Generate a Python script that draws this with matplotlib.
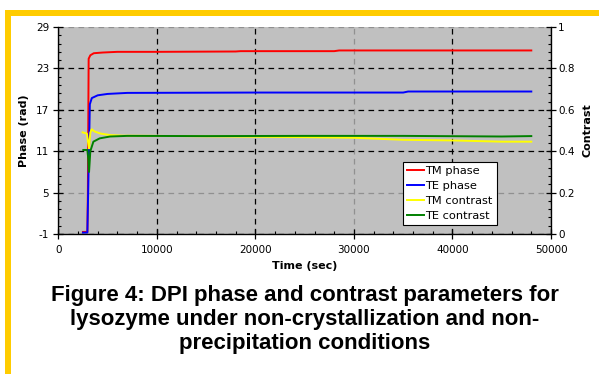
import matplotlib
matplotlib.use("Agg")
import matplotlib.pyplot as plt
from matplotlib.patches import Rectangle
from matplotlib.ticker import MultipleLocator, FuncFormatter

plt.rcParams["axes.unicode_minus"] = False

# values (time in sec)
tm_phase_t = [2500, 2950, 3000, 3080, 3250, 3600, 4500, 6000, 10000, 18000, 18500, 28000, 28500, 48000]
tm_phase = [-0.7, -0.7, 5.0, 24.4, 24.9, 25.2, 25.3, 25.4, 25.4, 25.45, 25.5, 25.5, 25.6, 25.6]

te_phase_t = [2500, 2950, 3100, 3200, 3400, 4000, 5000, 7000, 20000, 35000, 35500, 48000]
te_phase = [-0.8, -0.8, 10.0, 17.8, 18.7, 19.1, 19.3, 19.45, 19.5, 19.5, 19.65, 19.65]

tm_con_t = [2470, 2900, 3000, 3120, 3250, 3390, 3700, 4300, 5250, 6500, 10000, 20000, 25000, 30000, 35000, 40000, 45000, 48000]
tm_con = [0.491, 0.485, 0.45, 0.414, 0.49, 0.506, 0.495, 0.485, 0.478, 0.475, 0.474, 0.47, 0.468, 0.465, 0.455, 0.452, 0.446, 0.446]

te_con_t = [2540, 2950, 3050, 3120, 3250, 3560, 4200, 5250, 7000, 15000, 25000, 35000, 45000, 48000]
te_con = [0.406, 0.406, 0.36, 0.30, 0.40, 0.446, 0.462, 0.471, 0.474, 0.473, 0.474, 0.474, 0.471, 0.473]

labels = ["TM phase", "TE phase", "TM contrast", "TE contrast"]
colors = ["#ff0000", "#0000ff", "#ffff00", "#008000"]

caption = ("Figure 4: DPI phase and contrast parameters for\n"
           "lysozyme under non-crystallization and non-\n"
           "precipitation conditions")

fig = plt.figure(figsize=(5.99, 3.74), dpi=100)

# yellow frame
fig.add_artist(Rectangle((5 / 599, 1 - 15.7 / 374), 1, 5.7 / 374, transform=fig.transFigure,
                         facecolor="#ffcc00", edgecolor="none"))
fig.add_artist(Rectangle((5 / 599, 0), 6 / 599, 1 - 10 / 374, transform=fig.transFigure,
                         facecolor="#ffcc00", edgecolor="none"))

ax = fig.add_axes([58.3 / 599, 1 - 234 / 374, 492.7 / 599, 207 / 374])
ax.set_facecolor("#c0c0c0")
ax.set_xlim(0, 50000)
ax.set_ylim(-1, 29)
ax.xaxis.set_major_locator(MultipleLocator(10000))
ax.xaxis.set_minor_locator(MultipleLocator(2000))
ax.set_yticks([-1, 5, 11, 17, 23, 29])
ax.yaxis.set_minor_locator(MultipleLocator(1.2, offset=-1))
ax.tick_params(which="major", direction="inout", length=7, width=0.9, labelsize=7.5)
ax.tick_params(axis="x", which="major", pad=4.5)
ax.tick_params(axis="y", which="major", pad=3)
ax.tick_params(which="minor", direction="in", length=2.5, width=0.8)
ax.spines["top"].set_visible(False)
for s in ["left", "bottom", "right"]:
    ax.spines[s].set_linewidth(0.9)

ax.grid(True, which="major", color="black", linestyle=(0, (4.5, 3.5)), linewidth=0.9)
ygl = ax.get_ygridlines()
ygl[1].set_color("#909090")
ygl[5].set_color("#909090")
ax.get_xgridlines()[4].set_color("#909090")

ax.plot(tm_phase_t, tm_phase, color=colors[0], lw=1.4, label=labels[0])
ax.plot(te_phase_t, te_phase, color=colors[1], lw=1.4, label=labels[1])
ax.set_ylabel("Phase (rad)", fontsize=8, fontweight="bold", labelpad=5)
ax.set_xlabel("Time (sec)", fontsize=8, fontweight="bold", labelpad=4)

ax2 = ax.twinx()
ax2.set_ylim(0, 1)
ax2.yaxis.set_major_locator(MultipleLocator(0.2))
ax2.yaxis.set_minor_locator(MultipleLocator(0.04))
ax2.yaxis.set_major_formatter(FuncFormatter(lambda v, p: "%g" % round(v, 2)))
ax2.tick_params(which="major", direction="inout", length=7, width=0.9, labelsize=7.5, pad=1.5)
ax2.tick_params(which="minor", direction="in", length=2.5, width=0.8)
ax2.spines["top"].set_visible(False)
ax2.plot(tm_con_t, tm_con, color=colors[2], lw=1.4, label=labels[2])
ax2.plot(te_con_t, te_con, color=colors[3], lw=1.4, label=labels[3])
ax2.set_ylabel("Contrast", fontsize=8, fontweight="bold", labelpad=6)

h1, l1 = ax.get_legend_handles_labels()
h2, l2 = ax2.get_legend_handles_labels()
leg = ax2.legend(h1 + h2, l1 + l2, loc="lower left", bbox_to_anchor=(0.699, 0.0435),
                 borderaxespad=0, fontsize=8.2, fancybox=False, framealpha=1,
                 edgecolor="black", handlelength=1.5, handletextpad=0.15,
                 labelspacing=0.45, borderpad=0.35)
leg.get_frame().set_linewidth(0.8)

fig.text(305 / 599, 1 - 285.5 / 374, caption, ha="center", va="top", fontsize=16,
         fontweight="bold", family="Liberation Sans", linespacing=1.16)

fig.savefig("out.png", dpi=100)
